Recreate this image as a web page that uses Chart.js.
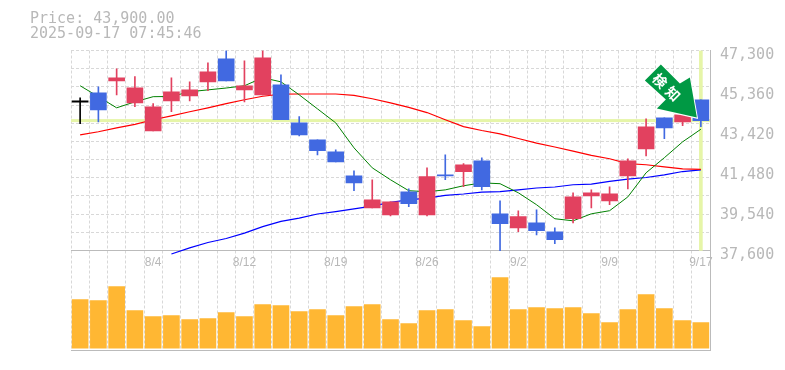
<!DOCTYPE html>
<html>
<head>
<meta charset="utf-8">
<title>Price chart</title>
<script src="https://cdn.jsdelivr.net/npm/chart.js@4"></script>
<style>
html, body { margin: 0; padding: 0; background: #fff; }
canvas { display: block; }
</style>
</head>
<body>
<canvas id="mycanvas" width="785" height="370"></canvas>
<script>
var dates = ['7/29','7/30','7/31','8/1','8/4','8/5','8/6','8/7','8/8','8/12','8/13','8/14','8/15','8/18','8/19','8/20','8/21','8/22','8/25','8/26','8/27','8/28','8/29','9/1','9/2','9/3','9/4','9/5','9/8','9/9','9/10','9/11','9/12','9/16','9/17'];
var dateTicks = ['8/4','8/12','8/19','8/26','9/2','9/9','9/17'];
var priceTicks = [47300,45360,43420,41480,39540,37600];
var titleLines = ['Price: 43,900.00','2025-09-17 07:45:46'];
var arrowText = ['検','知'];
var currentPrice = 43900;

var open  = [44860,45250,45830,44760,43400,44860,45100,45780,46900,45390,45150,45640,43790,42970,42390,41220,39670,39330,40450,39330,41270,41420,41950,39380,38700,38940,38510,39140,40250,40010,41220,42530,44040,43840,44910];
var close = [44800,44420,45980,45490,44570,45300,45390,46270,45830,45590,46950,43940,43210,42440,41900,40880,40060,39960,39870,41180,41220,41760,40690,38900,39240,38560,38120,40200,40400,40350,41950,43600,43550,44180,43900];
var high  = [45010,45540,46410,46030,44720,45980,45780,46700,47300,46800,47300,46120,44090,42970,42480,41470,41030,39960,40590,41610,42240,41810,42100,40010,39530,39570,38700,40400,40540,40690,42050,43990,44040,44280,44910];
var low   = [43750,43840,45150,44570,43400,44330,44860,45350,45830,44810,45150,43940,43160,42240,41900,40500,39670,39280,39720,39280,41030,40690,40540,37590,38510,38360,37930,38940,39670,39820,40590,42190,43020,43650,43600];

var ma5  = [45590,45060,44520,44810,45060,45070,45300,45390,45480,45590,45980,45780,45150,44470,43790,42580,41610,41030,40500,40450,40540,40740,40880,40840,40400,39820,39140,39040,39380,39530,40200,41370,42100,42870,43480];
var ma25 = [43210,43360,43550,43720,43940,44130,44330,44520,44720,44910,45080,45180,45190,45190,45190,45120,44960,44760,44540,44290,43940,43610,43420,43260,43030,42810,42620,42420,42210,42050,41810,41760,41660,41560,41530];
var ma75 = [null,null,null,null,null,37430,37730,37990,38180,38440,38760,39010,39170,39370,39490,39620,39750,39930,40060,40140,40270,40340,40430,40460,40540,40630,40680,40790,40820,40950,41060,41140,41270,41430,41510];

var volume = [487,477,617,377,317,327,287,297,357,317,437,427,367,387,327,417,437,287,247,377,387,277,217,707,387,407,397,407,347,257,387,537,397,277,257];

var RED = '#e2415f', BLUE = '#4169e1', HILITE = '#e6f5a8', GRID = '#d8d8d8', AXIS = '#bbbbbb', TEXT = '#b8b8b8', ARROW = '#009944';

var last = dates.length - 1;
var candleColor = open.map(function(o, i) {
	if (i == 0) return '#000000';
	return close[i] > o ? RED : BLUE;
});
var gridTicks = [];
for (var g = 0; g <= 11; g++) gridTicks.push(47300 - g * (47300 - 37600) / 11);

// current price band across the plot and the arrow on the last candle
var overlay = {
	id: 'overlay',
	beforeDatasetsDraw: function(chart) {
		var a = chart.chartArea, y = chart.scales.y.getPixelForValue(currentPrice);
		chart.ctx.fillStyle = HILITE;
		chart.ctx.fillRect(a.left, y - 1.5, a.right - a.left, 3);
	},
	afterDatasetsDraw: function(chart) {
		var ctx = chart.ctx;
		var tx = chart.scales.x.getPixelForValue(last) - 4;
		var ty = chart.scales.y.getPixelForValue(currentPrice) - 3;
		var shape = [[-36,-53],[-17,-34],[-7,-40],[0,0],[-40,-9],[-31,-18],[-52,-37]];
		ctx.save();
		ctx.translate(tx, ty);
		ctx.beginPath();
		shape.forEach(function(p, i) { if (i == 0) ctx.moveTo(p[0], p[1]); else ctx.lineTo(p[0], p[1]); });
		ctx.closePath();
		ctx.lineWidth = 2;
		ctx.strokeStyle = '#ffffff';
		ctx.stroke();
		ctx.fillStyle = ARROW;
		ctx.fill();
		ctx.fillStyle = '#ffffff';
		ctx.font = 'bold 14px "Noto Sans CJK JP"';
		ctx.textAlign = 'center';
		ctx.textBaseline = 'middle';
		[[-37,-37],[-24,-24]].forEach(function(p, i) {
			ctx.save();
			ctx.translate(p[0], p[1]);
			ctx.rotate(Math.PI / 4);
			ctx.fillText(arrowText[i], 0, 0);
			ctx.restore();
		});
		ctx.restore();
	}
};

function lineSet(data, color, width, order) {
	return { type: 'line', data: data, borderColor: color, borderWidth: width, pointRadius: 0, tension: 0, order: order, yAxisID: 'y', spanGaps: false };
}

new Chart(document.getElementById('mycanvas'), {
	type: 'bar',
	plugins: [overlay],
	data: {
		labels: dates,
		datasets: [
			{
				data: dates.map(function(d, i) { return i == last ? [37600, 47300] : null; }),
				backgroundColor: HILITE, barThickness: 3, grouped: false, order: 10, yAxisID: 'y'
			},
			{ data: volume, backgroundColor: '#ffb733', barThickness: 16, grouped: false, order: 9, yAxisID: 'yVol' },
			lineSet(ma75, '#0000ff', 1.2, 6),
			lineSet(ma25, '#ff0000', 1.2, 5),
			lineSet(ma5, '#008000', 1, 4),
			{
				data: high.map(function(h, i) { return [low[i], h]; }),
				backgroundColor: candleColor, barThickness: 1, grouped: false, order: 2, yAxisID: 'y'
			},
			{
				data: open.map(function(o, i) { return [o, close[i]]; }),
				backgroundColor: candleColor, barThickness: 16, grouped: false, order: 1, yAxisID: 'y'
			}
		]
	},
	options: {
		responsive: false,
		animation: false,
		layout: { padding: { left: 30, top: 0, right: 0, bottom: 0 } },
		plugins: {
			legend: { display: false },
			tooltip: { enabled: false },
			title: {
				display: true,
				text: titleLines,
				align: 'start',
				color: TEXT,
				font: { family: '"DejaVu Sans Mono"', size: 15, weight: 'normal', lineHeight: 1 },
				padding: { top: 12, bottom: 8.5 }
			}
		},
		scales: {
			x: {
				grid: { color: GRID, drawTicks: false },
				border: { color: AXIS, dash: [3, 2], width: 1 },
				afterFit: function(s) {
					s.height = 19.5;
					s.paddingLeft = 0;
					s.paddingRight = 0;
				},
				ticks: {
					// mirror keeps the labels from being clipped to the axis box
					autoSkip: false, maxRotation: 0, mirror: true, padding: 81, color: TEXT,
					font: { family: '"Liberation Sans"', size: 12 },
					callback: function(v) { var d = dates[v]; return dateTicks.indexOf(d) >= 0 ? d : ''; }
				}
			},
			y: {
				position: 'right', min: 32750, max: 47300,
				afterBuildTicks: function(s) { s.ticks = gridTicks.map(function(v) { return { value: v }; }); },
				afterFit: function(s) { s.width = 0; },
				ticks: { display: false },
				grid: {
					drawTicks: false,
					color: function(c) { return c.index == 11 ? AXIS : GRID; }
				},
				border: {
					color: AXIS,
					dash: function(c) { return c.index == 11 ? [] : [3, 2]; }
				}
			},
			yLabels: {
				position: 'right', min: 32750, max: 47300,
				afterBuildTicks: function(s) { s.ticks = priceTicks.map(function(v) { return { value: v }; }); },
				afterFit: function(s) { s.width = 75; },
				grid: { display: false, drawTicks: false },
				border: { display: false },
				ticks: {
					padding: 10, color: TEXT, labelOffset: 4.5,
					font: { family: '"DejaVu Sans Mono"', size: 15 },
					callback: function(v) { return v.toLocaleString('en-US'); }
				}
			},
			yVol: {
				position: 'left', min: -23, max: 2977,
				afterFit: function(s) { s.width = 41; },
				grid: { display: false },
				border: { display: false },
				ticks: { display: false }
			}
		}
	}
});
</script>
</body>
</html>
